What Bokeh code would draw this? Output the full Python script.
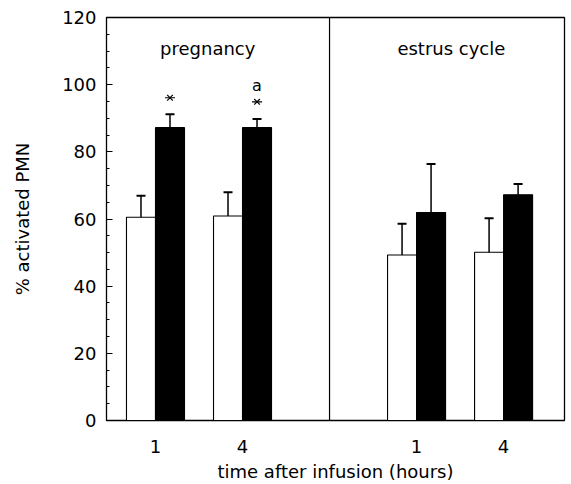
from bokeh.plotting import figure
from bokeh.models import FixedTicker, Range1d, Span
from bokeh.embed import file_html
from bokeh.resources import INLINE
from bokeh.core.properties import value

# ---- data ----
groups = ["pregnancy", "estrus cycle"]
hours = ["1", "4"]
control = [60.5, 60.9, 49.3, 50.1]          # white bars
control_err = [6.4, 7.1, 9.3, 10.1]
treated = [87.2, 87.2, 61.9, 67.2]          # black bars
treated_err = [4.0, 2.6, 14.5, 3.2]
star_y = [96.1, 94.9, None, None]           # "*" above black bars
letter_a = ["", "a", "", ""]
letter_y = [None, 99.9, None, None]
y_ticks = [0, 20, 40, 60, 80, 100, 120]

FONT = "DejaVu Sans"

# x positions: panel * 3 + hour index + 1
xpos = []
xlab = []
for gi, g in enumerate(groups):
    for hi, h in enumerate(hours):
        xpos.append(gi * 3 + hi + 1)
        xlab.append(h)

bw = 1 / 3
xw = [x - bw / 2 for x in xpos]
xb = [x + bw / 2 for x in xpos]

p = figure(width=568, height=484, output_backend="svg", toolbar_location=None,
           x_range=Range1d(0.437, 5.70), y_range=Range1d(0, 120),
           min_border_left=106, min_border_right=4, min_border_top=17, min_border_bottom=62)
p.outline_line_color = "black"
p.outline_line_width = 1.3
p.xgrid.visible = False
p.ygrid.visible = False
p.background_fill_color = "white"
p.border_fill_color = "white"

# bars
p.vbar(x=xw, top=control, width=bw, fill_color="white", line_color="black", line_width=1.1)
p.vbar(x=xb, top=treated, width=bw, fill_color="black", line_color="black", line_width=1.1)

# error bars (upward only)
c_top = [v + e for v, e in zip(control, control_err)]
t_top = [v + e for v, e in zip(treated, treated_err)]
p.segment(x0=xw, y0=control, x1=xw, y1=c_top, line_color="black", line_width=1.5)
p.segment(x0=xb, y0=treated, x1=xb, y1=t_top, line_color="black", line_width=1.5)
p.scatter(x=xw, y=c_top, marker="dash", size=9, line_color="black", line_width=2)
p.scatter(x=xb, y=t_top, marker="dash", size=9, line_color="black", line_width=2)

# panel divider
p.add_layout(Span(location=3, dimension="height", line_color="black", line_width=1.2))

# significance stars
sx = [x for x, s in zip(xb, star_y) if s is not None]
sy = [s for s in star_y if s is not None]
p.scatter(x=sx, y=sy, marker="x", size=8, line_color="black", line_width=1.2)
p.scatter(x=sx, y=sy, marker="dash", size=10, line_color="black", line_width=1.2)
ax = [x for x, s in zip(xb, letter_y) if s is not None]
ay = [s for s in letter_y if s is not None]
at = [t for t, s in zip(letter_a, letter_y) if s is not None]
p.text(x=ax, y=ay, text=at, text_font=value(FONT), text_font_size="16px",
       text_align="center", text_baseline="middle", text_color="black")

# panel labels
p.text(x=[1.6, 4.4], y=[110.8, 110.8], text=groups, text_font=value(FONT),
       text_font_size="18px", text_align="center", text_baseline="middle", text_color="black")

# y axis
p.yaxis.ticker = FixedTicker(ticks=y_ticks, minor_ticks=list(range(0, 121, 5)))
p.yaxis.major_tick_in = 6
p.yaxis.major_tick_out = 0
p.yaxis.minor_tick_in = 3
p.yaxis.minor_tick_out = 0
p.yaxis.major_label_text_font = FONT
p.yaxis.major_label_text_font_size = "18px"
p.yaxis.major_label_text_color = "black"
p.yaxis.major_label_standoff = 10
p.yaxis.axis_label = "% activated PMN"
p.yaxis.axis_label_text_font = FONT
p.yaxis.axis_label_text_font_size = "18px"
p.yaxis.axis_label_text_font_style = "normal"
p.yaxis.axis_label_text_color = "black"
p.yaxis.axis_label_standoff = 26
p.yaxis.axis_line_color = "black"

# x axis
p.xaxis.ticker = FixedTicker(ticks=xpos)
p.xaxis.major_label_overrides = {x: l for x, l in zip(xpos, xlab)}
p.xaxis.major_tick_in = 0
p.xaxis.major_tick_out = 0
p.xaxis.minor_tick_line_color = None
p.xaxis.major_label_text_font = FONT
p.xaxis.major_label_text_font_size = "18px"
p.xaxis.major_label_text_color = "black"
p.xaxis.major_label_standoff = 19
p.xaxis.axis_label = "time after infusion (hours)"
p.xaxis.axis_label_text_font = FONT
p.xaxis.axis_label_text_font_size = "18px"
p.xaxis.axis_label_text_font_style = "normal"
p.xaxis.axis_label_text_color = "black"
p.xaxis.axis_label_standoff = 5
p.xaxis.axis_line_color = "black"

open("out.html", "w").write(file_html(p, INLINE))
